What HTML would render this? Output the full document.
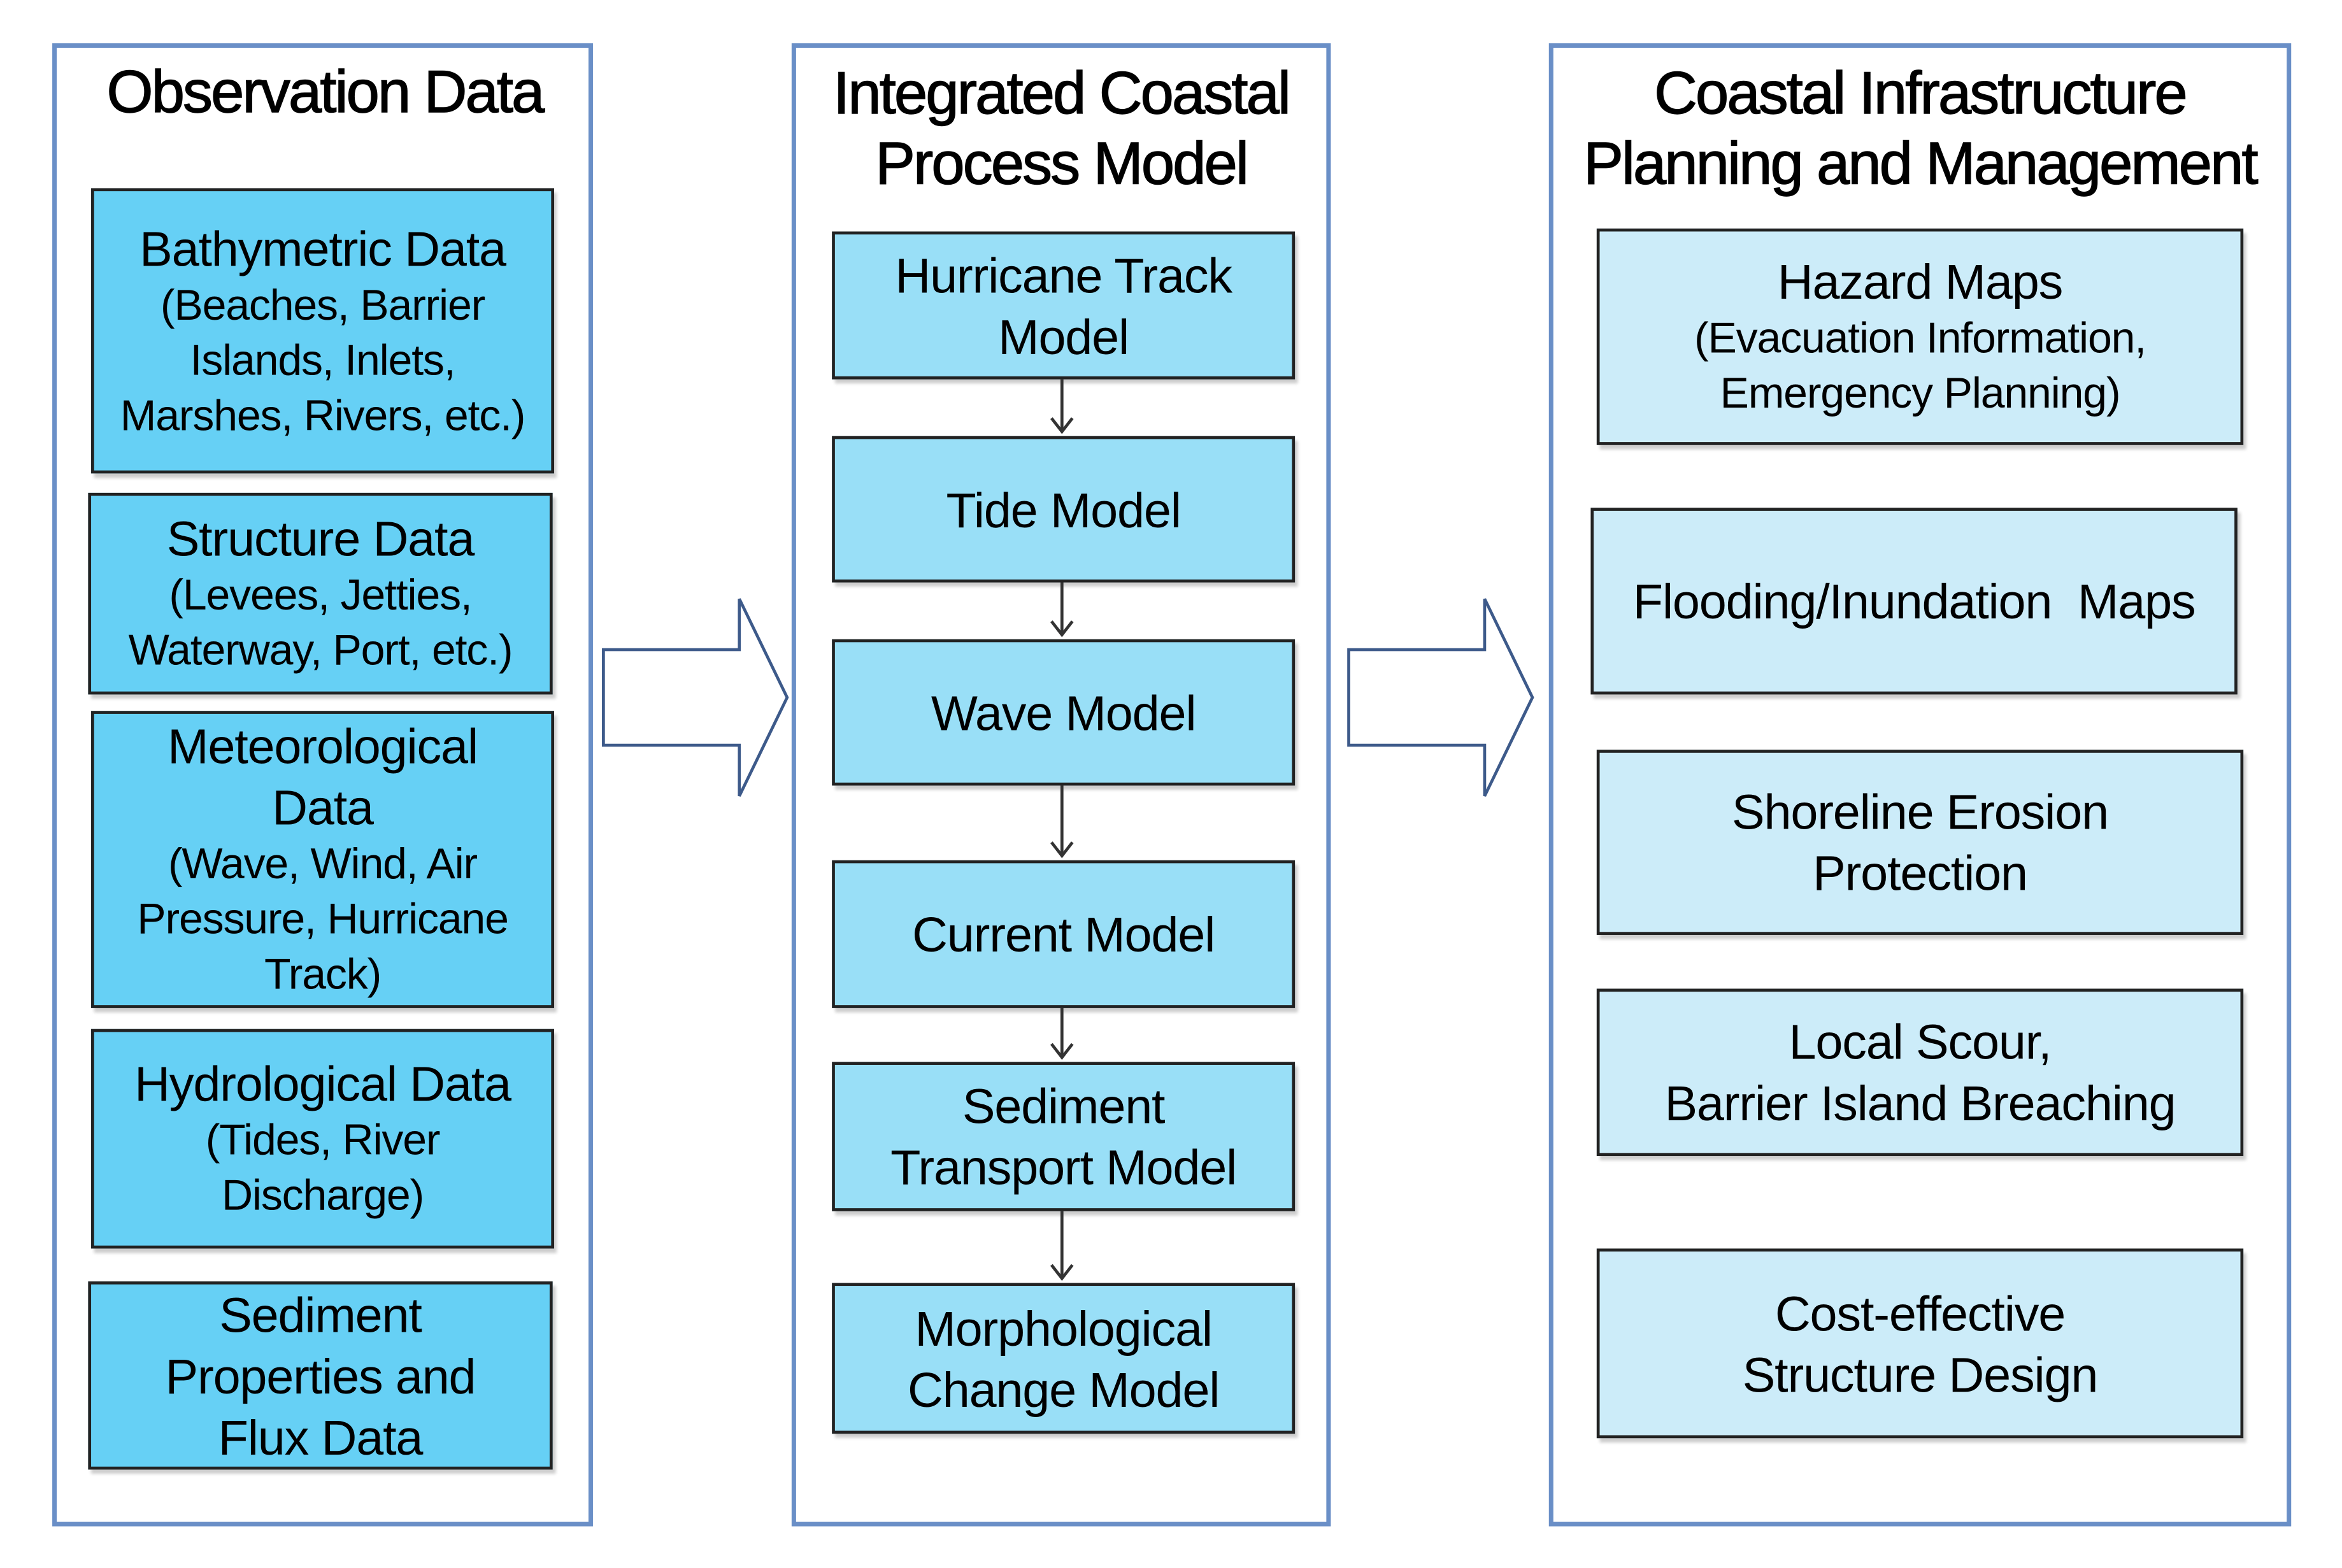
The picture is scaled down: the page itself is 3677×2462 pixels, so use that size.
<!DOCTYPE html>
<html><head><meta charset="utf-8"><style>
html,body{margin:0;padding:0;background:#fff;}
body{width:3677px;height:2462px;overflow:hidden;position:relative;}
#c{position:absolute;left:0;top:0;width:1568px;height:1050px;transform-origin:0 0;transform:scale(2.345,2.345);font-family:"Liberation Sans",sans-serif;color:#000;}
.o{position:absolute;border:3px solid #6a8fc7;box-sizing:border-box;background:#fff;}
.t{position:absolute;text-align:center;font-size:40px;line-height:47px;letter-spacing:-1.2px;-webkit-text-stroke:0.6px #000;}
.b{position:absolute;box-sizing:border-box;border:2px solid #222;display:flex;align-items:center;justify-content:center;text-align:center;box-shadow:2px 3px 2px rgba(0,0,0,0.2);font-size:33px;line-height:41px;letter-spacing:-0.5px;}
.l{background:#66d0f5;}
.m{background:#99dff7;}
.r{background:#ccecf9;}
.s{display:block;font-size:29px;line-height:37px;}
</style></head><body><div id="c">
<div class="o" style="left:35px;top:29px;width:362px;height:993px;"></div>
<div class="o" style="left:530px;top:29px;width:361px;height:993px;"></div>
<div class="o" style="left:1037px;top:29px;width:497px;height:993px;"></div>

<div class="t" style="left:35px;top:39px;width:365px;">Observation Data</div>
<div class="t" style="left:530px;top:40px;width:361px;">Integrated Coastal<br>Process Model</div>
<div class="t" style="left:1037px;top:40px;width:497px;">Coastal Infrastructure<br>Planning and Management</div>

<div class="b l" style="left:61px;top:126px;width:310px;height:191px;"><div>Bathymetric Data<span class="s">(Beaches, Barrier<br>Islands, Inlets,<br>Marshes, Rivers, etc.)</span></div></div>
<div class="b l" style="left:59px;top:330px;width:311px;height:135px;"><div>Structure Data<span class="s">(Levees, Jetties,<br>Waterway, Port, etc.)</span></div></div>
<div class="b l" style="left:61px;top:476px;width:310px;height:199px;"><div>Meteorological<br>Data<span class="s">(Wave, Wind, Air<br>Pressure, Hurricane<br>Track)</span></div></div>
<div class="b l" style="left:61px;top:689px;width:310px;height:147px;"><div>Hydrological Data<span class="s">(Tides, River<br>Discharge)</span></div></div>
<div class="b l" style="left:59px;top:858px;width:311px;height:126px;"><div>Sediment<br>Properties and<br>Flux Data</div></div>

<div class="b m" style="left:557px;top:155px;width:310px;height:99px;"><div>Hurricane Track<br>Model</div></div>
<div class="b m" style="left:557px;top:292px;width:310px;height:98px;"><div>Tide Model</div></div>
<div class="b m" style="left:557px;top:428px;width:310px;height:98px;"><div>Wave Model</div></div>
<div class="b m" style="left:557px;top:576px;width:310px;height:99px;"><div>Current Model</div></div>
<div class="b m" style="left:557px;top:711px;width:310px;height:100px;"><div>Sediment<br>Transport Model</div></div>
<div class="b m" style="left:557px;top:859px;width:310px;height:101px;"><div>Morphological<br>Change Model</div></div>

<div class="b r" style="left:1069px;top:153px;width:433px;height:145px;"><div>Hazard Maps<span class="s">(Evacuation Information,<br>Emergency Planning)</span></div></div>
<div class="b r" style="left:1065px;top:340px;width:433px;height:125px;"><div>Flooding/Inundation&nbsp; Maps</div></div>
<div class="b r" style="left:1069px;top:502px;width:433px;height:124px;"><div>Shoreline Erosion<br>Protection</div></div>
<div class="b r" style="left:1069px;top:662px;width:433px;height:112px;"><div>Local Scour,<br>Barrier Island Breaching</div></div>
<div class="b r" style="left:1069px;top:836px;width:433px;height:127px;"><div>Cost-effective<br>Structure Design</div></div>

<svg style="position:absolute;left:0;top:0" width="1568" height="1050">
<g stroke="#333" stroke-width="2" fill="none">
<path d="M711 254V289M704 280L711 289L718 280"/>
<path d="M711 390V425M704 416L711 425L718 416"/>
<path d="M711 526V573M704 564L711 573L718 564"/>
<path d="M711 675V708M704 699L711 708L718 699"/>
<path d="M711 811V856M704 847L711 856L718 847"/>
</g>
<g stroke="#3d5a8a" stroke-width="2" fill="#fff">
<path d="M404 435H495V401L527 467L495 533V499H404Z"/>
<path d="M903 435H994V401L1026 467L994 533V499H903Z"/>
</g>
</svg>
</div></body></html>
